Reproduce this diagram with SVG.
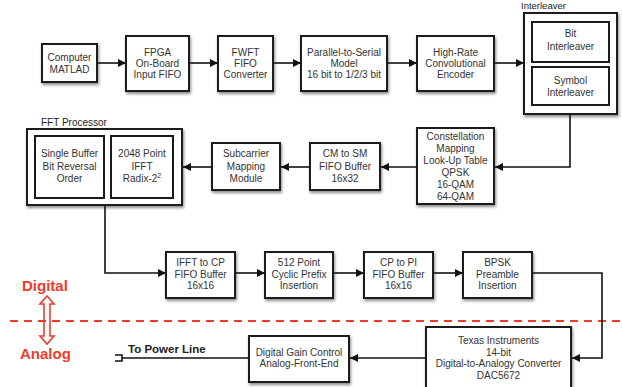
<svg xmlns="http://www.w3.org/2000/svg" width="622" height="387" viewBox="0 0 622 387">
<style>
.box{fill:#fff;stroke:#1a1a1a;stroke-width:2;filter:url(#sh)}
.inner{fill:#fff;stroke:#1a1a1a;stroke-width:2}
.t{font-family:"Liberation Sans",Arial,sans-serif;font-size:10px;fill:#333;text-anchor:middle}
.lbl{font-family:"Liberation Sans",Arial,sans-serif;font-size:10px;fill:#222}
.c{fill:none;stroke:#111;stroke-width:1.6}
.red{font-family:"Liberation Sans",Arial,sans-serif;font-size:15px;font-weight:bold;fill:#ef3b2c}
</style>
<defs>
<filter id="sh" x="-20%" y="-20%" width="140%" height="150%">
<feDropShadow dx="1" dy="2" stdDeviation="1.5" flood-color="#000" flood-opacity="0.45"/>
</filter>
<marker id="ah" viewBox="0 0 10 10" refX="10" refY="5" markerWidth="9" markerHeight="8" markerUnits="userSpaceOnUse" orient="auto">
<path d="M0,0 L10,5 L0,10 z" fill="#111"/>
</marker>
</defs>
<rect width="622" height="387" fill="#fff"/>

<g id="n-computer"><rect class="box" x="42" y="44" width="55" height="38"/><text class="t" x="69.5" y="60.5">Computer</text><text class="t" x="69.5" y="72.5">MATLAD</text></g>
<g id="n-fpga"><rect class="box" x="126" y="36" width="63" height="55"/><text class="t" x="157.5" y="55.5">FPGA</text><text class="t" x="157.5" y="66.5">On-Board</text><text class="t" x="157.5" y="77.5">Input FIFO</text></g>
<g id="n-fwft"><rect class="box" x="218" y="36" width="55" height="55"/><text class="t" x="245.5" y="55.5">FWFT</text><text class="t" x="245.5" y="66.5">FIFO</text><text class="t" x="245.5" y="77.5">Converter</text></g>
<g id="n-p2s"><rect class="box" x="301" y="36" width="86" height="55"/><text class="t" x="344" y="55.5">Parallel-to-Serial</text><text class="t" x="344" y="66.5">Model</text><text class="t" x="344" y="77.5">16 bit to 1/2/3 bit</text></g>
<g id="n-enc"><rect class="box" x="417" y="36" width="77" height="55"/><text class="t" x="455.5" y="55.5">High-Rate</text><text class="t" x="455.5" y="66.5">Convolutional</text><text class="t" x="455.5" y="77.5">Encoder</text></g>
<g id="n-interleaver"><text class="lbl" x="521" y="9" style="font-size:9.5px">Interleaver</text><rect class="box" x="524" y="13" width="93" height="101"/>
<rect class="inner" x="532" y="22" width="77" height="40"/><text class="t" x="570.5" y="36.5">Bit</text><text class="t" x="570.5" y="49.5">Interleaver</text>
<rect class="inner" x="532" y="67" width="77" height="38"/><text class="t" x="570.5" y="83.5">Symbol</text><text class="t" x="570.5" y="95.5">Interleaver</text></g>

<g id="n-const"><rect class="box" x="417" y="128" width="77" height="76"/><text class="t" x="455.5" y="139.5">Constellation</text><text class="t" x="455.5" y="152">Mapping</text><text class="t" x="455.5" y="164">Look-Up Table</text><text class="t" x="455.5" y="176">QPSK</text><text class="t" x="455.5" y="187.5">16-QAM</text><text class="t" x="455.5" y="199.5">64-QAM</text></g>
<g id="n-cm2sm"><rect class="box" x="310" y="143" width="70" height="47"/><text class="t" x="345" y="156.5">CM to SM</text><text class="t" x="345" y="169.5">FIFO Buffer</text><text class="t" x="345" y="181.5">16x32</text></g>
<g id="n-subc"><rect class="box" x="212" y="143" width="68" height="47"/><text class="t" x="246" y="156.5">Subcarrier</text><text class="t" x="246" y="169.5">Mapping</text><text class="t" x="246" y="181.5">Module</text></g>
<g id="n-fft"><text class="lbl" x="41" y="126">FFT Processor</text><rect class="box" x="27" y="129" width="155" height="76"/>
<rect class="inner" x="35" y="136" width="69" height="62"/><text class="t" x="69.5" y="156.5">Single Buffer</text><text class="t" x="69.5" y="169.5">Bit Reversal</text><text class="t" x="69.5" y="181.5">Order</text>
<rect class="inner" x="111" y="136" width="62" height="62"/><text class="t" x="142" y="156.5">2048 Point</text><text class="t" x="142" y="169.5">IFFT</text><text class="t" x="142" y="181.5">Radix-2<tspan dy="-4" style="font-size:7px">2</tspan></text></g>

<g id="n-ifft2cp"><rect class="box" x="166" y="252" width="69" height="46"/><text class="t" x="200.5" y="265.5">IFFT to CP</text><text class="t" x="200.5" y="277.5">FIFO Buffer</text><text class="t" x="200.5" y="288.5">16x16</text></g>
<g id="n-cp512"><rect class="box" x="265" y="252" width="68" height="46"/><text class="t" x="299" y="265.5">512 Point</text><text class="t" x="299" y="277.5">Cyclic Prefix</text><text class="t" x="299" y="288.5">Insertion</text></g>
<g id="n-cp2pi"><rect class="box" x="364" y="252" width="69" height="46"/><text class="t" x="398.5" y="265.5">CP to PI</text><text class="t" x="398.5" y="277.5">FIFO Buffer</text><text class="t" x="398.5" y="288.5">16x16</text></g>
<g id="n-bpsk"><rect class="box" x="463" y="252" width="69" height="46"/><text class="t" x="497.5" y="265.5">BPSK</text><text class="t" x="497.5" y="277.5">Preamble</text><text class="t" x="497.5" y="288.5">Insertion</text></g>

<g id="n-dac"><rect class="box" x="426" y="327" width="145" height="66"/><text class="t" x="498.5" y="343.5">Texas Instruments</text><text class="t" x="498.5" y="355.5">14-bit</text><text class="t" x="498.5" y="366.5">Digital-to-Analogy Converter</text><text class="t" x="498.5" y="378.5">DAC5672</text></g>
<g id="n-agc"><rect class="box" x="249" y="336" width="100" height="46"/><text class="t" x="299" y="355.5">Digital Gain Control</text><text class="t" x="299" y="366.5">Analog-Front-End</text></g>

<g id="domain">
<text class="red" x="22" y="291">Digital</text>
<text class="red" x="20" y="359">Analog</text>
<path d="M47,296 L54,304 L50,304 L50,336 L54,336 L47,344 L40,336 L44,336 L44,304 L40,304 Z" fill="#fff" stroke="#ef3b2c" stroke-width="1.6" stroke-linejoin="miter"/>
<line x1="10" y1="321" x2="622" y2="321" stroke="#ef3b2c" stroke-width="2.2" stroke-dasharray="8,6"/>
</g>

<g id="connectors">
<line class="c" x1="97" y1="63" x2="126" y2="63" marker-end="url(#ah)"/>
<line class="c" x1="189" y1="63" x2="218" y2="63" marker-end="url(#ah)"/>
<line class="c" x1="273" y1="63" x2="301" y2="63" marker-end="url(#ah)"/>
<line class="c" x1="387" y1="63" x2="417" y2="63" marker-end="url(#ah)"/>
<line class="c" x1="494" y1="63" x2="524" y2="63" marker-end="url(#ah)"/>
<polyline class="c" points="570,115 570,167 495,167" marker-end="url(#ah)"/>
<line class="c" x1="417" y1="167" x2="381" y2="167" marker-end="url(#ah)"/>
<line class="c" x1="310" y1="167" x2="281" y2="167" marker-end="url(#ah)"/>
<line class="c" x1="212" y1="167" x2="183" y2="167" marker-end="url(#ah)"/>
<polyline class="c" points="105,206 105,273 166,273" marker-end="url(#ah)"/>
<line class="c" x1="235" y1="273" x2="265" y2="273" marker-end="url(#ah)"/>
<line class="c" x1="333" y1="273" x2="364" y2="273" marker-end="url(#ah)"/>
<line class="c" x1="433" y1="273" x2="463" y2="273" marker-end="url(#ah)"/>
<polyline class="c" points="532,273 602,273 602,358 572,358" marker-end="url(#ah)"/>
<line class="c" x1="426" y1="358" x2="350" y2="358" marker-end="url(#ah)"/>
<line class="c" x1="249" y1="358" x2="122" y2="358"/>
<path d="M115,355 L122,355 L122,361 L115,361" fill="none" stroke="#111" stroke-width="1.6"/>
<text x="128" y="353" style="font-family:'Liberation Sans',Arial,sans-serif;font-size:11.5px;font-weight:bold;fill:#222">To Power Line</text>
</g>
</svg>
